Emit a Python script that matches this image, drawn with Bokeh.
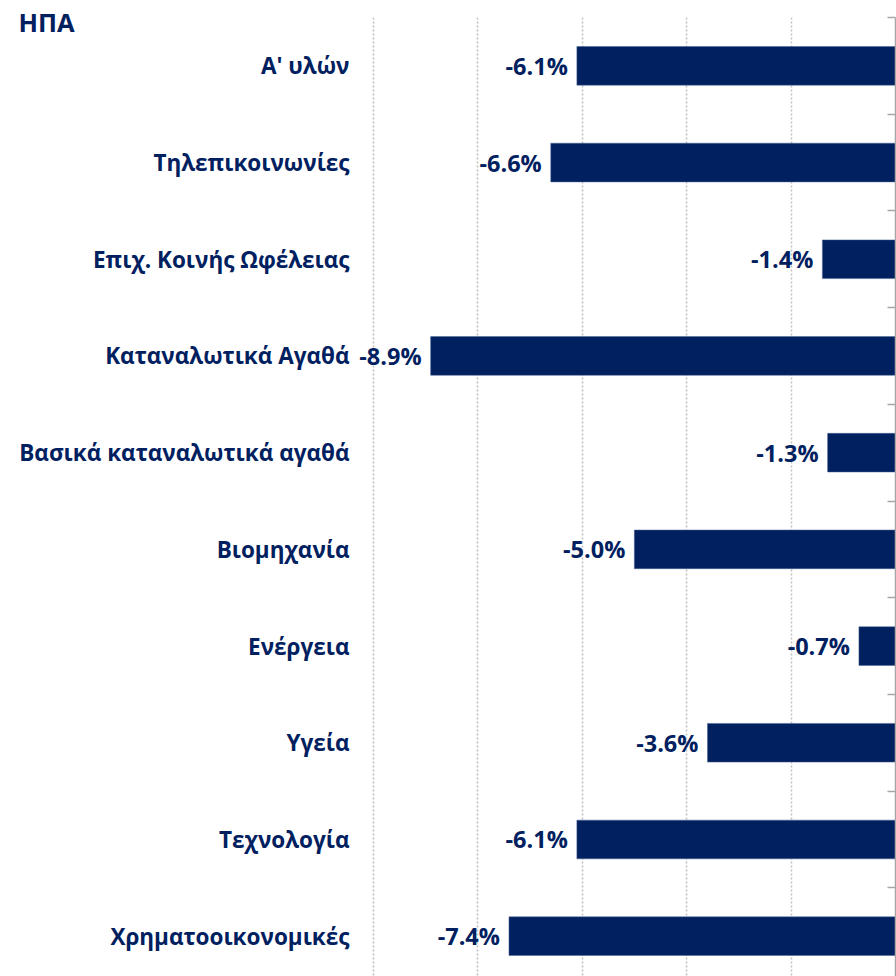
from bokeh.plotting import figure
from bokeh.models import (ColumnDataSource, FixedTicker, LinearAxis, Grid, Range1d,
                          LabelSet)
from bokeh.core.properties import value
from bokeh.embed import file_html
from bokeh.resources import INLINE

categories = ["Α' υλών", "Τηλεπικοινωνίες", "Επιχ. Κοινής Ωφέλειας", "Καταναλωτικά Αγαθά",
              "Βασικά καταναλωτικά αγαθά", "Βιομηχανία", "Ενέργεια", "Υγεία",
              "Τεχνολογία", "Χρηματοοικονομικές"]
values = [-6.1, -6.6, -1.4, -8.9, -1.3, -5.0, -0.7, -3.6, -6.1, -7.4]
grid_ticks = [-10, -8, -6, -4, -2]
title_text = "ΗΠΑ"

NAVY = "#002060"
FONT = "Open Sans"

idx = list(range(len(categories)))
labels = [f"{v:.1f}%" for v in values]
src = ColumnDataSource(dict(idx=idx, val=values, lbl=labels, zero=[0] * len(values)))

p = figure(width=896, height=976, output_backend="svg", toolbar_location=None,
           x_range=Range1d(-10.3, 0), y_range=Range1d(9.417, -0.5),
           x_axis_location=None, y_axis_location=None,
           min_border_left=357, min_border_right=1, min_border_top=17, min_border_bottom=0)
p.outline_line_color = None
p.background_fill_color = "white"
p.border_fill_color = "white"
p.xgrid.visible = False
p.ygrid.visible = False

# title (drawn partly over the top border, left of the plot frame)
p.title.text = title_text
p.title.align = "left"
p.title.offset = -339
p.title.standoff = -42
p.title.vertical_align = "bottom"
p.title.text_baseline = "alphabetic"
p.title.text_font = FONT
p.title.text_font_style = "bold"
p.title.text_font_size = "25.5px"
p.title.text_color = NAVY

grid = Grid(dimension=0, ticker=FixedTicker(ticks=grid_ticks),
            grid_line_color="#BFBFBF", grid_line_width=1.5, grid_line_dash="2 2")
p.add_layout(grid)

p.hbar(y="idx", left="val", right="zero", height=0.4, source=src,
       fill_color=NAVY, line_color="#4a6590", line_width=0.5)

vl = LabelSet(x="val", y="idx", text="lbl", source=src, text_align="right",
              text_baseline="middle", x_offset=-9, text_font=value(FONT),
              text_font_style="bold", text_font_size="23.5px", text_color=NAVY)
p.add_layout(vl)

left_axis = LinearAxis(ticker=FixedTicker(ticks=idx),
                       major_label_overrides={i: c for i, c in enumerate(categories)})
left_axis.axis_line_color = None
left_axis.major_tick_line_color = None
left_axis.minor_tick_line_color = None
left_axis.major_tick_in = 0
left_axis.major_tick_out = 0
left_axis.major_label_standoff = 8
left_axis.major_label_text_font = FONT
left_axis.major_label_text_font_style = "bold"
left_axis.major_label_text_font_size = "22.5px"
left_axis.major_label_text_color = NAVY
p.add_layout(left_axis, "left")

edge_ticks = [i - 0.5 for i in range(len(categories) + 1)]
right_axis = LinearAxis(ticker=FixedTicker(ticks=edge_ticks),
                        major_label_overrides={t: "" for t in edge_ticks})
right_axis.axis_line_color = "#A6A6A6"
right_axis.axis_line_width = 1.5
right_axis.major_tick_line_color = "#A6A6A6"
right_axis.major_tick_line_width = 1.5
right_axis.major_tick_in = 8
right_axis.major_tick_out = 0
right_axis.minor_tick_line_color = None
right_axis.major_label_standoff = 0
p.add_layout(right_axis, "right")

open("out.html", "w").write(file_html(p, INLINE))
